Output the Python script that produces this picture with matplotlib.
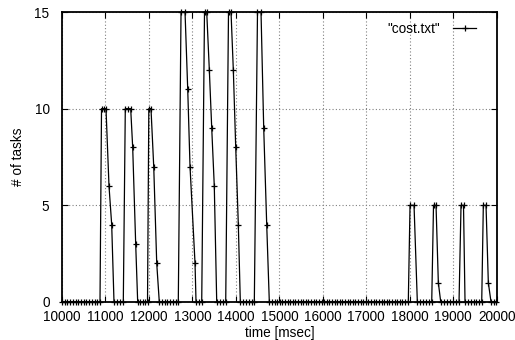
import matplotlib
matplotlib.use("Agg")
import matplotlib.pyplot as plt

# sampled task counts (gnuplot output of "cost.txt")
times = [
    10000, 10062, 10125, 10187, 10250, 10312, 10375, 10437, 10500, 10562,
    10625, 10687, 10750, 10812, 10874,
    10909, 10955, 11012, 11081, 11143, 11196,
    11270, 11340, 11410,
    11456, 11518, 11580, 11626, 11695, 11741,
    11800, 11860, 11910, 11967,
    11997, 12047, 12110, 12179, 12238,
    12300, 12360, 12420, 12490, 12550, 12615, 12675,
    12738, 12830, 12892, 12945, 13060, 13083,
    13150, 13214,
    13278, 13329, 13389, 13444, 13503, 13559,
    13625, 13700, 13766,
    13830, 13888, 13941, 13996, 14056, 14102,
    14165, 14230, 14300, 14365, 14424,
    14497, 14578, 14640, 14709, 14769,
    14830, 14890, 14950, 15010, 15070, 15130, 15190, 15250, 15310, 15370,
    15430, 15490, 15550, 15610, 15670, 15730, 15790, 15850, 15910, 15970,
    16030, 16090, 16150, 16210, 16270, 16330, 16390, 16450, 16510, 16570,
    16630, 16690, 16750, 16810, 16870, 16930, 16990, 17050, 17110, 17170,
    17230, 17290, 17350, 17410, 17470, 17530, 17590, 17650, 17710, 17770,
    17830, 17890, 17966,
    18006, 18098, 18174,
    18240, 18310, 18380, 18440, 18505,
    18546, 18604, 18657, 18712,
    18780, 18850, 18920, 18990, 19060, 19133,
    19179, 19236, 19271,
    19340, 19400, 19470, 19530, 19595, 19655,
    19692, 19754, 19807, 19869,
    19935, 19990,
]
tasks = [
    0, 0, 0, 0, 0, 0, 0, 0, 0, 0,
    0, 0, 0, 0, 0,
    10, 10, 10, 6, 4, 0,
    0, 0, 0,
    10, 10, 10, 8, 3, 0,
    0, 0, 0, 0,
    10, 10, 7, 2, 0,
    0, 0, 0, 0, 0, 0, 0,
    15, 15, 11, 7, 2, 0,
    0, 0,
    15, 15, 12, 9, 6, 0,
    0, 0, 0,
    15, 15, 12, 8, 4, 0,
    0, 0, 0, 0, 0,
    15, 15, 9, 4, 0,
    0, 0, 0, 0, 0, 0, 0, 0, 0, 0,
    0, 0, 0, 0, 0, 0, 0, 0, 0, 0,
    0, 0, 0, 0, 0, 0, 0, 0, 0, 0,
    0, 0, 0, 0, 0, 0, 0, 0, 0, 0,
    0, 0, 0, 0, 0, 0, 0, 0, 0, 0,
    0, 0, 0,
    5, 5, 0,
    0, 0, 0, 0, 0,
    5, 5, 1, 0,
    0, 0, 0, 0, 0, 0,
    5, 5, 0,
    0, 0, 0, 0, 0, 0,
    5, 5, 1, 0,
    0, 0,
]

xticks = [10000, 11000, 12000, 13000, 14000, 15000, 16000, 17000, 18000, 19000, 20000]
yticks = [0, 5, 10, 15]

plt.rcParams['font.family'] = ['Liberation Sans', 'DejaVu Sans']

fig = plt.figure(figsize=(5.15, 3.4), dpi=100)
ax = fig.add_axes([0.1204, 0.1118, 0.8441, 0.8529])

ax.plot(times, tasks, color='black', linewidth=0.9, marker='+',
        markersize=5, markeredgewidth=0.9, label='"cost.txt"', clip_on=False)

ax.set_xlim(10000, 20000)
ax.set_ylim(0, 15)
ax.set_xticks(xticks)
ax.set_yticks(yticks)
ax.tick_params(direction='in', length=4, width=0.8, labelsize=9.8,
               top=True, right=True, pad=6)
ax.tick_params(axis='y', pad=9)
ax.grid(True, color='0.5', linestyle=(0, (1, 2)), linewidth=0.8)
for s in ax.spines.values():
    s.set_linewidth(1.3)

ax.set_xlabel('time [msec]', fontsize=9.8, labelpad=1)
ax.set_ylabel('# of tasks', fontsize=9.8, labelpad=7)

ax.legend(loc='upper right', frameon=False, markerfirst=False,
          fontsize=9.8, handlelength=1.7, handletextpad=1.0,
          borderaxespad=0.3, bbox_to_anchor=(0.975, 1.0))

fig.savefig('out.png', dpi=100)
